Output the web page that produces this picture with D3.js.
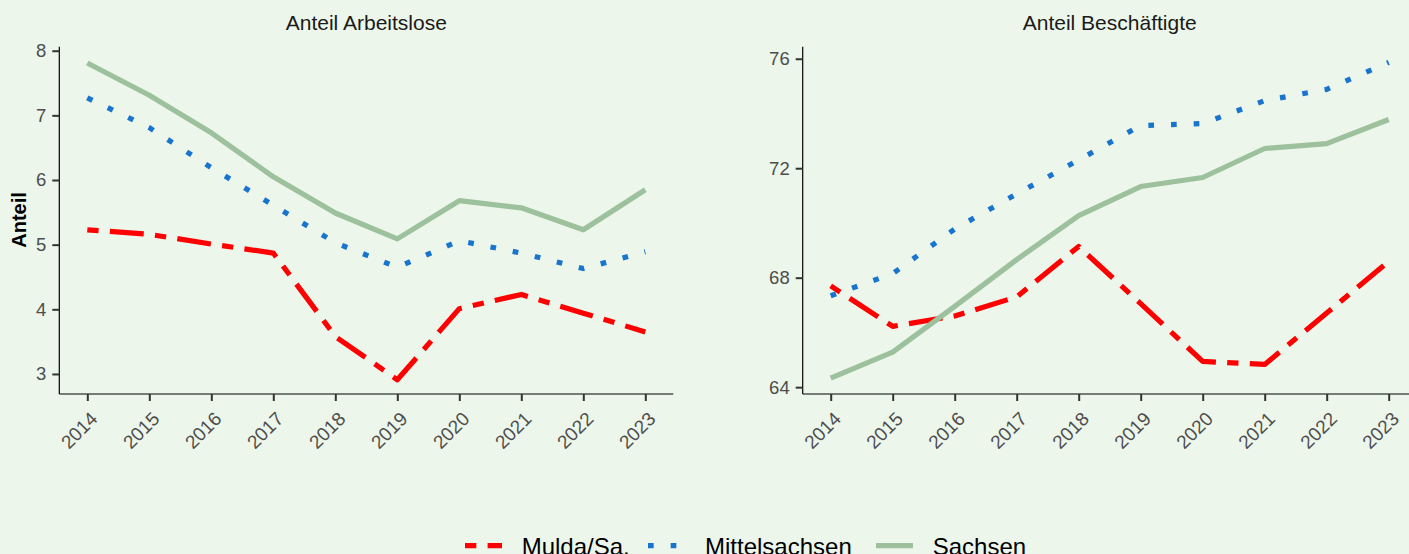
<!DOCTYPE html>
<html><head><meta charset="utf-8">
<script src="https://cdn.jsdelivr.net/npm/d3@7"></script>
<style>
html,body{margin:0;padding:0;background:#EDF6EB;}
svg{display:block;font-family:"Liberation Sans",Arial,sans-serif;}
</style></head>
<body>
<svg id="chart" width="1409" height="554"></svg>
<script>
// ---- data ----
const years = [2014, 2015, 2016, 2017, 2018, 2019, 2020, 2021, 2022, 2023];
const seriesNames = ["Mulda/Sa.", "Mittelsachsen", "Sachsen"];
const alMulda   = [5.23, 5.16, 5.01, 4.87, 3.58, 2.91, 4.01, 4.23, 3.94, 3.65];
const alMittel  = [7.27, 6.81, 6.19, 5.61, 5.03, 4.65, 5.06, 4.87, 4.63, 4.89];
const alSachsen = [7.81, 7.31, 6.73, 6.05, 5.49, 5.09, 5.68, 5.57, 5.23, 5.85];
const beMulda   = [67.70, 66.22, 66.60, 67.30, 69.14, 67.05, 64.94, 64.83, 66.71, 68.60];
const beMittel  = [67.34, 68.15, 69.78, 71.06, 72.30, 73.56, 73.63, 74.47, 74.88, 75.87];
const beSachsen = [64.33, 65.28, 66.95, 68.66, 70.27, 71.33, 71.66, 72.72, 72.90, 73.78];
const alTicks = [3, 4, 5, 6, 7, 8];
const beTicks = [64, 68, 72, 76];
const panelTitles = ["Anteil Arbeitslose", "Anteil Beschäftigte"];
const yLabel = "Anteil";

// ---- styles ----
const colors = {"Mulda/Sa.": "#FF0000", "Mittelsachsen": "#1874CD", "Sachsen": "#9CC19C"};
const dashes = {"Mulda/Sa.": "11.3,11.3,34,11.3", "Mittelsachsen": "5.67,17", "Sachsen": null};
const LW = 5.2;

const svg = d3.select("#chart");
svg.append("rect").attr("width", 1409).attr("height", 554).attr("fill", "#EDF6EB");

const panels = [
  {left: 59.3, title: panelTitles[0], domain: [2.69, 8.062], ticks: alTicks,
   data: {"Mulda/Sa.": alMulda, "Mittelsachsen": alMittel, "Sachsen": alSachsen}},
  {left: 802.7, title: panelTitles[1], domain: [63.75, 76.44], ticks: beTicks,
   data: {"Mulda/Sa.": beMulda, "Mittelsachsen": beMittel, "Sachsen": beSachsen}}
];
const plotTop = 46.7, plotBottom = 394, plotWidth = 614;

panels.forEach(p => {
  const x = d3.scaleLinear().domain([2014 - 28/62, 2023 + 28/62]).range([p.left, p.left + plotWidth]);
  const y = d3.scaleLinear().domain(p.domain).range([plotBottom, plotTop]);
  const g = svg.append("g");

  // title
  g.append("text").attr("x", p.left + plotWidth / 2).attr("y", 30)
    .attr("text-anchor", "middle").attr("font-size", 21).attr("fill", "#1a1a1a").text(p.title);

  // lines
  const line = d3.line().x((d, i) => x(years[i])).y(d => y(d));
  seriesNames.forEach(s => {
    const path = g.append("path").datum(p.data[s]).attr("d", line)
      .attr("fill", "none").attr("stroke", colors[s]).attr("stroke-width", LW)
      .attr("stroke-linejoin", "round").attr("stroke-linecap", "butt");
    if (dashes[s]) path.attr("stroke-dasharray", dashes[s]);
  });

  // y axis
  const ya = g.append("g").attr("transform", `translate(${p.left},0)`)
    .call(d3.axisLeft(y).tickValues(p.ticks).tickSize(7).tickPadding(6).tickFormat(d3.format("d")));
  ya.select(".domain").attr("stroke", "#000").attr("stroke-width", 1.2).attr("d", `M0,${plotTop}V${plotBottom}`);
  ya.selectAll(".tick line").attr("stroke", "#333").attr("stroke-width", 2);
  ya.selectAll(".tick text").attr("font-size", 18.5).attr("fill", "#4D4D4D")
    .attr("font-family", "Liberation Sans, Arial, sans-serif");

  // x axis
  const xa = g.append("g").attr("transform", `translate(0,${plotBottom})`)
    .call(d3.axisBottom(x).tickValues(years).tickSize(7).tickFormat(d3.format("d")));
  xa.select(".domain").attr("stroke", "#000").attr("stroke-width", 1.2)
    .attr("d", `M${p.left},0H${p.left + plotWidth}`);
  xa.selectAll(".tick line").attr("stroke", "#333").attr("stroke-width", 2);
  xa.selectAll(".tick text").attr("font-size", 19).attr("fill", "#4D4D4D")
    .attr("font-family", "Liberation Sans, Arial, sans-serif")
    .attr("text-anchor", "end").attr("dy", null).attr("y", null)
    .attr("transform", "translate(11,26) rotate(-45)");
});

// y label
svg.append("text").attr("transform", "translate(25.7,220) rotate(-90)")
  .attr("text-anchor", "middle").attr("font-size", 20).attr("font-weight", "bold")
  .attr("fill", "#000").text(yLabel);

// legend
const legendItems = [
  {name: seriesNames[0], kx: 465, tx: 521.7},
  {name: seriesNames[1], kx: 648, tx: 705},
  {name: seriesNames[2], kx: 876, tx: 932.7}
];
const ly = 545.7;
legendItems.forEach(it => {
  const l = svg.append("line").attr("x1", it.kx).attr("x2", it.kx + 37)
    .attr("y1", ly).attr("y2", ly).attr("stroke", colors[it.name]).attr("stroke-width", LW)
    .attr("stroke-linecap", "butt");
  if (dashes[it.name]) l.attr("stroke-dasharray", dashes[it.name]);
  svg.append("text").attr("x", it.tx).attr("y", 554.5).attr("font-size", 24)
    .attr("fill", "#000").text(it.name);
});
</script>
</body></html>
